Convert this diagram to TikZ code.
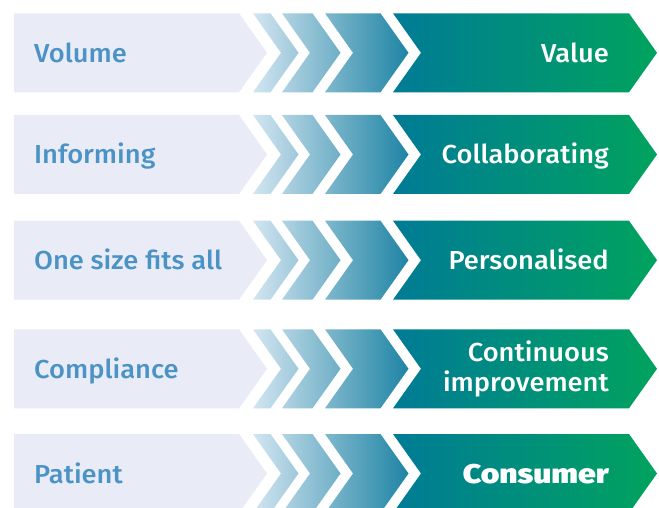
\documentclass[tikz,border=0pt]{standalone}
\usepackage{fontspec}
\setmainfont{Fira Sans Medium}[FakeStretch=1.05]
\newfontfamily\heavyfont{Fira Sans Black}[FakeStretch=1.18]
\definecolor{boxgrey}{HTML}{E9ECF6}
\definecolor{fromblue}{HTML}{4B93C5}
\definecolor{chevL}{HTML}{D2E5F1}
\definecolor{chevR}{HTML}{1F84A4}
\definecolor{darkL}{HTML}{007B96}
\definecolor{darkR}{HTML}{00A35E}
\tikzset{
  lightbox/.style={fill=boxgrey},
  chev/.style={left color=chevL, right color=chevR},
  valuebox/.style={left color=darkL, right color=darkR},
  fromtxt/.style={anchor=base west, text=fromblue, inner sep=0pt, font=\fontsize{26}{30}\selectfont},
  totxt/.style={anchor=base east, text=white, align=right, inner sep=0pt, font=\fontsize{26}{30}\selectfont},
}
% one row: background shapes and the left-hand label
% #1 top edge, #2 row name, #3 left label
\newcommand\shiftrow[3]{%
  \begin{scope}[shift={(0,#1)}]
    \fill[lightbox] (14,0) -- (239,0) -- (267,39.5) -- (239,79) -- (14,79) -- cycle;
    \shade[chev]
      (253,0) -- (270.5,0) -- (298.5,39.5) -- (270.5,79) -- (253,79) -- (281,39.5) -- cycle
      (282,0) -- (312.5,0) -- (340.5,39.5) -- (312.5,79) -- (282,79) -- (310,39.5) -- cycle
      (325,0) -- (380.5,0) -- (408.5,39.5) -- (380.5,79) -- (325,79) -- (353,39.5) -- cycle;
    \shade[valuebox] (393,0) -- (629,0) -- (657,39.5) -- (629,79) -- (393,79) -- (421,39.5) -- cycle;
    \node[fromtxt] (#2-from) at (34,49) {#3};
  \end{scope}}
\begin{document}
\begin{tikzpicture}[x=1pt,y=-1pt]
  \useasboundingbox (0,0) rectangle (659,508);
  \clip (0,0) rectangle (659,508);
  \fill[white] (0,0) rectangle (659,508);
  \shiftrow{13.3}{volume}{Volume}
  \shiftrow{115}{inform}{Informing}
  \shiftrow{220.7}{onesize}{One size fits all}
  \shiftrow{329.3}{compl}{Compliance}
  \shiftrow{434}{patient}{Patient}
  \node[totxt] (value) at (609,62.3) {Value};
  \node[totxt] (collab) at (609,164) {Collaborating};
  \node[totxt] (personal) at (609,269.7) {Personalised};
  \node[totxt] (contimp) at (609,391.7) {Continuous\\improvement};
  \node[totxt, font=\fontsize{27}{30}\heavyfont] (consumer) at (609,483) {Consumer};
\end{tikzpicture}
\end{document}
